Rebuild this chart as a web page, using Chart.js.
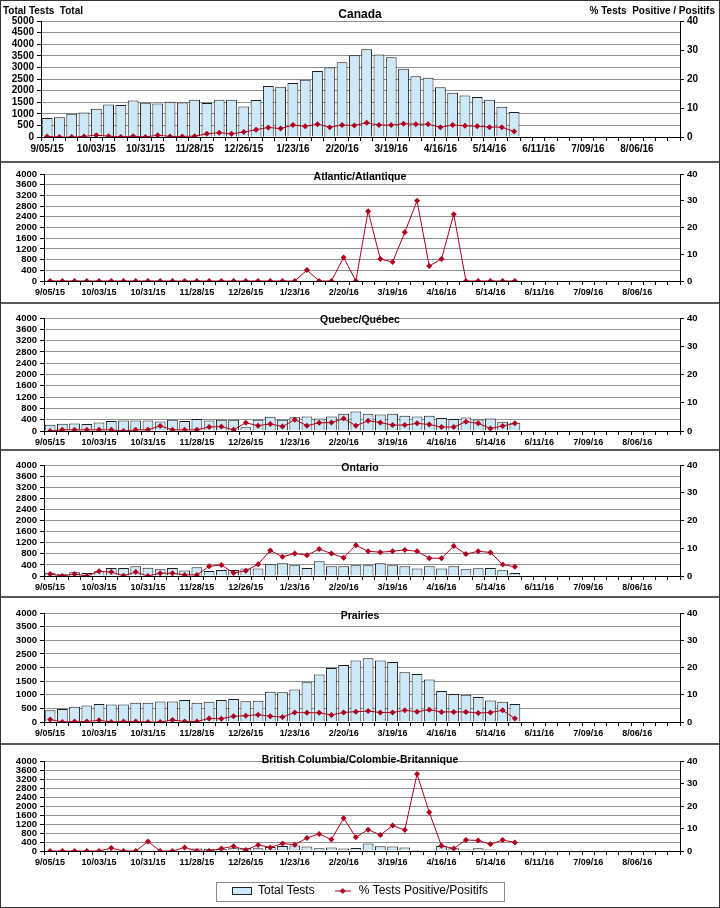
<!DOCTYPE html>
<html><head><meta charset="utf-8">
<script src="https://cdn.jsdelivr.net/npm/chart.js@4.4.1/dist/chart.umd.min.js"></script>
<style>
html,body{margin:0;padding:0;background:#fff;}
body{width:720px;height:908px;position:relative;overflow:hidden;font-family:'Liberation Sans',Arial,sans-serif;}
canvas{position:absolute;left:0;}
.txt{position:absolute;font-weight:bold;color:#000;line-height:1;white-space:nowrap;}
.title{left:0;width:720px;text-align:center;}
.sep{position:absolute;left:0;width:720px;height:0;border-top:2px solid #5a5a5a;}
#frame{position:absolute;left:0;top:0;width:718px;height:906px;border:1px solid #333;pointer-events:none;z-index:5;}
</style></head>
<body>
<div id="frame"></div>
<canvas id="c0" width="720" height="161" style="top:0px"></canvas>
<canvas id="c1" width="720" height="140" style="top:163px"></canvas>
<canvas id="c2" width="720" height="146" style="top:304px"></canvas>
<canvas id="c3" width="720" height="146" style="top:451px"></canvas>
<canvas id="c4" width="720" height="146" style="top:598px"></canvas>
<canvas id="c5" width="720" height="162" style="top:745px"></canvas>
<div class="sep" style="top:161px"></div>
<div class="sep" style="top:302px"></div>
<div class="sep" style="top:449px"></div>
<div class="sep" style="top:596px"></div>
<div class="sep" style="top:743px"></div>
<div class="txt" style="left:3px;top:6px;font-size:10px;">Total Tests&nbsp; Total</div>
<div class="txt" style="right:5px;top:6px;font-size:10px;">% Tests&nbsp; Positive / Positifs</div>
<div class="txt title" style="top:8px;font-size:12px;">Canada</div>
<div class="txt title" style="top:171px;font-size:10.5px;">Atlantic/Atlantique</div>
<div class="txt title" style="top:314px;font-size:10.5px;">Quebec/Québec</div>
<div class="txt title" style="top:462px;font-size:10.5px;">Ontario</div>
<div class="txt title" style="top:610px;font-size:10.5px;">Prairies</div>
<div class="txt title" style="top:754px;font-size:10.5px;">British Columbia/Colombie-Britannique</div>
<script>
const weeks = ['9/05/15','9/12/15','9/19/15','9/26/15','10/03/15','10/10/15','10/17/15','10/24/15','10/31/15','11/07/15','11/14/15','11/21/15','11/28/15','12/05/15','12/12/15','12/19/15','12/26/15','1/02/16','1/09/16','1/16/16','1/23/16','1/30/16','2/06/16','2/13/16','2/20/16','2/27/16','3/05/16','3/12/16','3/19/16','3/26/16','4/02/16','4/09/16','4/16/16','4/23/16','4/30/16','5/07/16','5/14/16','5/21/16','5/28/16','6/04/16','6/11/16','6/18/16','6/25/16','7/02/16','7/09/16','7/16/16','7/23/16','7/30/16','8/06/16','8/13/16','8/20/16','8/27/16'];

const canadaTests = [820,850,1000,1060,1220,1400,1380,1570,1480,1440,1520,1490,1610,1470,1610,1610,1310,1600,2200,2170,2330,2470,2850,3000,3220,3520,3780,3560,3440,2940,2620,2550,2140,1910,1790,1720,1610,1300,1080];
const canadaPct = [0.2,0,0,0.2,0.6,0.3,0,0.3,0,0.6,0.2,0.2,0.3,1.1,1.5,1.1,1.7,2.5,3.3,2.9,4.1,3.7,4.4,3.4,4.1,4.0,4.9,4.1,4.1,4.6,4.4,4.4,3.4,4.1,3.9,3.7,3.4,3.4,1.9];

const atlanticTests = [3,2,4,3,5,4,6,5,4,5,6,5,7,6,8,7,6,8,9,10,12,14,12,15,14,18,22,25,28,30,26,24,22,20,18,15,12,10,8];
const atlanticPct = [0,0,0,0,0,0,0,0,0,0,0,0,0,0,0,0,0,0,0,0,0,4.1,0,0,8.8,0,26.1,8.2,7.1,18.2,30,5.6,8.2,25,0,0,0,0,0];

const quebecTests = [222,257,269,246,304,351,374,374,374,339,398,351,421,374,398,398,129,398,503,398,491,515,444,515,608,690,608,585,608,538,515,538,456,421,480,409,440,330,290];
const quebecPct = [0,0.4,0.4,0.4,0.4,0.4,0,0.4,0.4,1.8,0.4,0.4,0.4,1.4,1.6,0.4,2.9,1.9,2.5,1.6,4.0,1.9,2.9,3.0,4.4,1.9,3.6,3.0,2.1,2.1,2.7,2.3,1.4,1.4,3.3,2.7,0.9,1.8,2.7];

const ontarioTests = [121,60,133,109,170,290,290,350,300,240,290,194,315,180,218,218,267,267,424,460,388,290,533,351,351,388,388,460,388,351,267,351,267,351,242,279,290,206,109];
const ontarioPct = [0.7,0,0.7,0,1.7,1.4,0.1,1.4,0,1.0,1.0,0.4,0.4,3.5,4.0,1.1,1.9,4.2,9.2,6.9,8.1,7.5,9.7,8.1,6.6,11.1,8.9,8.6,8.9,9.4,8.9,6.4,6.4,10.8,7.9,8.9,8.5,4.1,3.3];

const prairiesTests = [430,480,560,610,660,640,640,710,710,750,750,810,710,740,810,840,760,780,1110,1090,1190,1460,1740,1980,2090,2260,2340,2260,2200,1830,1760,1560,1140,1030,1000,920,790,740,660];
const prairiesPct = [0.9,0,0.2,0.2,0.6,0,0.2,0.2,0,0,0.7,0.2,0.2,1.3,1.2,2.1,2.3,2.7,2.1,1.8,3.5,3.4,3.4,2.6,3.5,3.8,4.0,3.5,3.5,4.3,3.8,4.5,3.7,3.7,3.7,3.3,3.5,4.3,1.3];

const bcTests = [10,10,20,20,30,40,50,50,60,60,50,60,110,100,100,120,140,120,180,220,240,200,120,160,110,130,330,210,200,160,40,60,220,120,70,120,70,50,40];
const bcPct = [0,0,0,0,0,1.3,0,0,4.2,0,0,1.6,0,0,1.1,2.1,0.4,2.7,1.6,3.3,2.8,5.8,7.6,5.1,14.6,6.1,9.5,7.1,11.3,9.3,34.2,17.2,2.3,1.1,4.9,4.7,3.0,4.9,3.8];

const seriesNames = ['Total Tests', '% Tests Positive/Positifs'];

const BAR_FILL = '#cde9f9';
const BAR_EDGE = '#1e1e1e';
const LINE_RED = '#b0001c';
const FONT = "'Liberation Sans', Arial, sans-serif";

function legendSwatch() {
  const c = document.createElement('canvas');
  c.width = 20; c.height = 8;
  const g = c.getContext('2d');
  g.fillStyle = BAR_FILL; g.fillRect(0.5, 0.5, 19, 7);
  g.strokeStyle = '#222'; g.lineWidth = 1; g.strokeRect(0.5, 0.5, 19, 7);
  return c;
}
function legendLine() {
  const c = document.createElement('canvas');
  c.width = 16; c.height = 8;
  const g = c.getContext('2d');
  g.strokeStyle = LINE_RED; g.lineWidth = 1;
  g.beginPath(); g.moveTo(0, 4); g.lineTo(16, 4); g.stroke();
  g.fillStyle = LINE_RED;
  g.beginPath(); g.moveTo(8, 1); g.lineTo(11, 4); g.lineTo(8, 7); g.lineTo(5, 4); g.closePath(); g.fill();
  return c;
}

const legendBoxPlugin = {
  id: 'legendBox',
  afterDraw(chart) {
    const lg = chart.legend;
    if (!lg || !lg.options.display || !lg.legendHitBoxes) return;
    const hb = lg.legendHitBoxes;
    let l = Infinity, r = -Infinity, cy = 0;
    hb.forEach(h => { l = Math.min(l, h.left); r = Math.max(r, h.left + h.width); cy = h.top + h.height / 2; });
    const ctx = chart.ctx;
    ctx.save();
    ctx.strokeStyle = '#8a8a8a';
    ctx.lineWidth = 1;
    ctx.strokeRect(Math.round(l - 16) + 0.5, Math.round(cy - 9.5) + 0.5, Math.round(r - l + 32), 19);
    ctx.restore();
  }
};

function makeChart(id, tests, pct, o) {
  const tickFont = { family: FONT, size: o.fs, weight: 'bold' };
  const yFont = { family: FONT, size: o.yfs, weight: 'bold' };
  return new Chart(document.getElementById(id), {
    type: 'bar',
    data: {
      labels: weeks,
      datasets: [
        { type: 'bar', label: seriesNames[0], data: tests, yAxisID: 'y', order: 2,
          backgroundColor: BAR_FILL, borderColor: BAR_EDGE, borderWidth: 1,
          barPercentage: 1.0, categoryPercentage: 0.88 },
        { type: 'line', label: seriesNames[1], data: pct, yAxisID: 'y1', order: 1,
          borderColor: LINE_RED, borderWidth: 1, backgroundColor: LINE_RED,
          pointStyle: 'rectRot', pointRadius: 3, pointBorderWidth: 0,
          pointBackgroundColor: LINE_RED, tension: 0 }
      ]
    },
    options: {
      responsive: false, animation: false, devicePixelRatio: 1,
      layout: { padding: { top: o.padTop, left: 0, right: 0, bottom: 0 } },
      plugins: {
        tooltip: { enabled: false },
        title: { display: false },
        legend: o.legend ? {
          display: true, position: 'bottom',
          labels: {
            usePointStyle: true, pointStyleWidth: 20, padding: 18,
            color: '#000', font: { family: FONT, size: 12 },
            generateLabels(chart) {
              const items = Chart.defaults.plugins.legend.labels.generateLabels(chart);
              items.sort((a, b) => a.datasetIndex - b.datasetIndex);
              items[0].pointStyle = legendSwatch();
              items[1].pointStyle = legendLine();
              return items;
            }
          }
        } : { display: false }
      },
      scales: {
        x: {
          offset: true,
          grid: { display: true, offset: true, drawOnChartArea: false, drawTicks: true, tickLength: 4, color: '#000', tickColor: '#000' },
          border: { display: true, color: '#000', width: 1 },
          ticks: {
            autoSkip: false, maxRotation: 0, minRotation: 0, padding: 2, color: '#000', font: tickFont,
            callback: (v, i) => (i % 4 === 0 ? weeks[i] : '')
          },
          afterFit: s => { s.height = o.xH; }
        },
        y: {
          position: 'left', min: 0, max: o.yMax,
          ticks: { stepSize: o.yStep, autoSkip: false, padding: 3, color: '#000', font: yFont, callback: v => String(v) },
          grid: { color: '#8f8f8f', lineWidth: 1, tickColor: '#000', tickLength: 4 },
          border: { display: true, color: '#000', width: 1 },
          afterFit: s => { s.width = o.leftW; }
        },
        y1: {
          position: 'right', min: 0, max: 40,
          ticks: { stepSize: 10, autoSkip: false, padding: 3, color: '#000', font: yFont, callback: v => String(v) },
          grid: { drawOnChartArea: false, tickColor: '#000', tickLength: 4 },
          border: { display: true, color: '#000', width: 1 },
          afterFit: s => { s.width = 40; }
        }
      }
    },
    plugins: o.legend ? [legendBoxPlugin] : []
  });
}

makeChart('c0', canadaTests, canadaPct, { yMax: 5000, yStep: 500, padTop: 21, xH: 24, leftW: 41, fs: 10, yfs: 10 });
makeChart('c1', atlanticTests, atlanticPct, { yMax: 4000, yStep: 400, padTop: 11, xH: 22, leftW: 44, fs: 9, yfs: 9.5 });
makeChart('c2', quebecTests, quebecPct, { yMax: 4000, yStep: 400, padTop: 14, xH: 19, leftW: 44, fs: 9, yfs: 9.5 });
makeChart('c3', ontarioTests, ontarioPct, { yMax: 4000, yStep: 400, padTop: 14, xH: 21, leftW: 44, fs: 9, yfs: 9.5 });
makeChart('c4', prairiesTests, prairiesPct, { yMax: 4000, yStep: 500, padTop: 15, xH: 22, leftW: 44, fs: 9, yfs: 9.5 });
makeChart('c5', bcTests, bcPct, { yMax: 4000, yStep: 400, padTop: 16, xH: 16, leftW: 44, fs: 9, yfs: 9.5, legend: true });
</script>
</body></html>
